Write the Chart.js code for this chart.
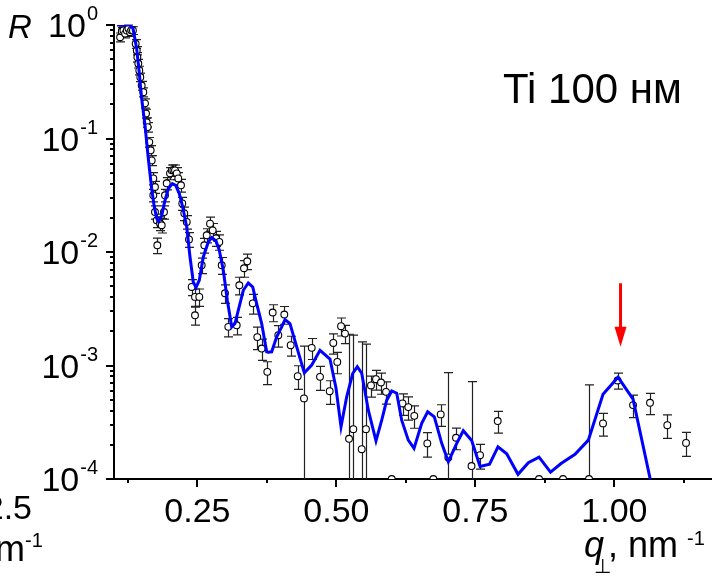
<!DOCTYPE html>
<html>
<head>
<meta charset="utf-8">
<script src="https://cdn.jsdelivr.net/npm/chart.js@4.4.1/dist/chart.umd.min.js"></script>
<style>
html,body{margin:0;padding:0;background:#fff;}
#wrap{position:relative;width:712px;height:577px;}
</style>
</head>
<body>
<div id="wrap"><canvas id="c"></canvas></div>
<script>
// ---- experimental reflectivity points: q (nm^-1), R, sigma(R) ----
const qObs = [0.111,0.114,0.117,0.120,0.123,0.126,0.129,0.131,0.134,0.139,
  0.141,0.142,0.1437,0.1455,0.1473,0.1498,0.1527,0.1558,0.1576,0.1588,
  0.1606,0.1635,0.166,0.1678,0.1707,0.1737,0.1707,0.1737,0.1768,0.1827,
  0.1858,0.1779,0.1899,0.1917,0.1948,0.2007,0.2038,0.2067,0.2097,0.2128,
  0.2156,0.2205,0.2228,0.2264,0.2308,0.2349,0.2397,0.2457,0.2534,0.2457,
  0.2577,0.2624,0.2667,0.2727,0.2775,0.2835,0.2894,0.2937,0.2996,0.3056,
  0.3207,0.3254,0.3338,0.3397,0.3495,0.3577,0.3656,0.3757,0.3854,0.3955,
  0.4063,0.4178,0.4304,0.4417,0.4556,0.4705,0.4879,0.4944,0.5016,0.5083,
  0.5155,0.5227,0.5304,0.5455,0.5532,0.5622,0.5712,0.5802,0.5892,0.5995,
  0.6189,0.6293,0.6401,0.6635,0.6743,0.6876,0.7013,0.7151,0.743,0.7583,
  0.7901,0.8644,0.9076,0.9543,0.9795,1.0056,1.0335,1.064,1.0951,1.1288];
const rObs = [0.78,0.88,0.895,0.84,0.895,0.93,0.864,0.90,0.895,0.683,
  0.596,0.52,0.458,0.398,0.347,0.293,0.256,0.204,0.166,0.139,
  0.126,0.093,0.0786,0.0641,0.0445,0.0374,0.0316,0.0225,0.019,0.0179,
  0.0172,0.01146,0.0225,0.0316,0.0403,0.0493,0.0524,0.0524,0.0524,0.0493,
  0.0445,0.0387,0.0268,0.0219,0.0184,0.0129,0.00492,0.00402,0.00402,0.00277,
  0.00764,0.01146,0.01403,0.01778,0.01552,0.01321,0.01226,0.00764,0.00433,0.00219,
  0.00226,0.00509,0.00719,0.00828,0.00353,0.00178,0.00141,0.000879,0.00293,0.00185,
  0.00281,0.00151,0.000805,0.000513,0.00143,0.000794,0.000594,0.00158,0.001076,0.00222,
  0.00191,0.000226,0.000275,0.000183,0.000275,0.000667,0.000757,0.000708,0.000586,0.0001,
  0.000463,0.00043,0.00036,0.000206,0.0001,0.000371,0.000155,0.000231,0.00013,0.000162,
  0.000324,0.0001,0.0001,0.0001,0.000309,0.000738,0.000448,0.000469,0.000298,0.000208];
const sObs = [0.07,0.07,0.07,0.07,0.07,0.07,0.07,0.07,0.07,0.06,
  0.05,0.05,0.04,0.035,0.03,0.026,0.023,0.019,0.015,0.013,
  0.012,0.009,0.008,0.0065,0.0055,0.0045,0.004,0.003,0.0026,0.0025,
  0.0025,0.0018,0.003,0.004,0.005,0.006,0.006,0.006,0.006,0.006,
  0.0055,0.005,0.0035,0.003,0.0025,0.0019,0.0008,0.0007,0.0007,0.0005,
  0.0012,0.0017,0.002,0.0025,0.0023,0.002,0.0019,0.0013,0.0008,0.0004,
  0.0004,0.0009,0.0012,0.0013,0.0007,0.0004,0.0003,0.0002,0.0005,0.0004,
  0.0005,0.0003,0.00019,0.00097,0.0003,0.00019,0.00014,0.00032,0.00023,0.0004,
  0.00035,0.00166,0.00158,0.00143,0.00127,0.00014,0.00015,0.00015,0.00013,0,
  0.0001,0.0001,0.00008,0.00005,0,0.00008,0.00071,0.00005,0.00059,0.00004,
  0.00007,0,0,0.000575,0.00007,0.00012,0.0001,0.0001,0.00007,0.00005];

// ---- fitted curve ----
const fitQ = [0.1054,0.1288,0.1342,0.1408,0.145,0.1498,0.1558,0.1617,0.1678,0.172,
  0.1768,0.1797,0.1858,0.1917,0.1977,0.2049,0.211,0.2174,0.2236,0.2308,
  0.2367,0.2426,0.2475,0.2534,0.2606,0.2696,0.2757,0.2835,0.2894,0.2966,
  0.3038,0.3117,0.3176,0.3236,0.3326,0.3415,0.3495,0.3566,0.3656,0.3746,
  0.3774,0.3836,0.3926,0.4016,0.4076,0.4165,0.4286,0.4423,0.4556,0.4705,
  0.4885,0.4993,0.5083,0.5185,0.5293,0.5376,0.5455,0.5574,0.5712,0.5815,
  0.5905,0.5995,0.6085,0.6174,0.6293,0.6396,0.6534,0.6642,0.6761,0.6894,
  0.7013,0.7164,0.7282,0.7433,0.7583,0.7754,0.7906,0.8063,0.8266,0.8452,
  0.8644,0.8851,0.904,0.9291,0.9531,0.9795,1.0065,1.0335,1.08];
const fitR = [1.0,1.0,0.932,0.617,0.398,0.224,0.1304,0.0664,0.0361,0.0258,
  0.0197,0.0186,0.021,0.0285,0.0361,0.040,0.0387,0.0327,0.0249,0.0166,
  0.00904,0.00544,0.00486,0.00564,0.00904,0.01225,0.0134,0.0125,0.01035,0.0069,
  0.00376,0.00219,0.00234,0.00307,0.0046,0.00533,0.00492,0.00351,0.00234,0.00132,
  0.00131,0.00132,0.00179,0.00219,0.00254,0.00234,0.00146,0.000861,0.00101,0.00136,
  0.00114,0.00063,0.000289,0.00053,0.00085,0.000976,0.000855,0.000404,0.000217,0.00033,
  0.000495,0.000597,0.00057,0.00033,0.00022,0.000186,0.000309,0.000391,0.000353,0.000206,
  0.000142,0.000206,0.000266,0.000218,0.000129,0.000135,0.000192,0.000167,0.00011,0.000139,
  0.000156,0.000115,0.000137,0.000165,0.00022,0.000559,0.000788,0.000505,0.000044];

// ---- axes ----
const xMajorTicks = [0.25,0.50,0.75,1.00];
const xTickLabels = ['0.25','0.50','0.75','1.00'];
const xMinorTicks = [0.125,0.375,0.625,0.875,1.125];
const yDecades = [1,0.1,0.01,0.001,0.0001];
const yExponents = ['0','-1','-2','-3','-4'];
const xMin = 0.1, xMax = 1.1755, yMin = 1e-4, yMax = 1;

// ---- red arrow marker ----
const arrowQ = 1.011, arrowFromR = 5.3e-3, arrowToR = 1.46e-3;

const FONT = '"Liberation Sans", Arial, Helvetica, sans-serif';

function supText(ctx, base, sup, xRight, baseY, baseSize, supSize, supRaise) {
  ctx.font = supSize + 'px ' + FONT;
  const sw = ctx.measureText(sup).width;
  ctx.font = baseSize + 'px ' + FONT;
  const bw = ctx.measureText(base).width;
  ctx.textAlign = 'left';
  ctx.fillText(base, xRight - sw - bw - 1, baseY);
  ctx.font = supSize + 'px ' + FONT;
  ctx.fillText(sup, xRight - sw, baseY - supRaise);
}

const deco = {
  id: 'deco',
  beforeDatasetsDraw(chart) {
    const {ctx, chartArea: a, scales: {x, y}} = chart;
    ctx.save();
    ctx.beginPath();
    ctx.rect(a.left, a.top - 2, a.right - a.left, a.bottom - a.top + 2);
    ctx.clip();
    ctx.strokeStyle = '#222';
    ctx.lineWidth = 1.2;
    for (let i = 0; i < qObs.length; i++) {
      const s = sObs[i];
      if (!s) continue;
      const px = Math.round(x.getPixelForValue(qObs[i])) + 0.5;
      const hi = y.getPixelForValue(rObs[i] + s);
      const loVal = rObs[i] - s;
      const lo = loVal > 0 ? y.getPixelForValue(loVal) : a.bottom + 10;
      ctx.beginPath();
      ctx.moveTo(px, hi); ctx.lineTo(px, lo);
      ctx.moveTo(px - 4.5, hi); ctx.lineTo(px + 4.5, hi);
      if (loVal > 0) { ctx.moveTo(px - 4.5, lo); ctx.lineTo(px + 4.5, lo); }
      ctx.stroke();
    }
    ctx.restore();
  },
  afterDatasetsDraw(chart) {
    const {ctx, scales: {x, y}} = chart;
    // red arrow
    const ax = x.getPixelForValue(arrowQ);
    const y0 = y.getPixelForValue(arrowFromR);
    const y1 = y.getPixelForValue(arrowToR);
    ctx.save();
    ctx.fillStyle = '#ff0000';
    ctx.fillRect(ax - 1.5, y0, 3, (y1 - 19) - y0);
    ctx.beginPath();
    ctx.moveTo(ax - 6, y1 - 20);
    ctx.lineTo(ax + 6, y1 - 20);
    ctx.lineTo(ax, y1);
    ctx.closePath();
    ctx.fill();
    ctx.restore();
  },
  afterDraw(chart) {
    const {ctx, chartArea: a, scales: {x, y}} = chart;
    ctx.save();
    ctx.strokeStyle = '#000';
    ctx.fillStyle = '#000';
    ctx.lineWidth = 2;
    // x ticks
    ctx.beginPath();
    xMajorTicks.forEach(v => {
      const px = Math.round(x.getPixelForValue(v));
      ctx.moveTo(px, a.bottom); ctx.lineTo(px, a.bottom + 8);
    });
    xMinorTicks.forEach(v => {
      const px = Math.round(x.getPixelForValue(v));
      ctx.moveTo(px, a.bottom); ctx.lineTo(px, a.bottom + 4);
    });
    // y ticks
    yDecades.forEach(v => {
      const py = Math.round(y.getPixelForValue(v));
      ctx.moveTo(a.left, py); ctx.lineTo(a.left - 8, py);
    });
    for (let d = 0; d < yDecades.length - 1; d++) {
      for (let k = 2; k <= 9; k++) {
        const py = Math.round(y.getPixelForValue(yDecades[d + 1] * k));
        ctx.moveTo(a.left, py); ctx.lineTo(a.left - 4, py);
      }
    }
    ctx.stroke();

    // x tick labels
    ctx.font = '34px ' + FONT;
    ctx.textAlign = 'center';
    ctx.textBaseline = 'alphabetic';
    xMajorTicks.forEach((v, i) => {
      ctx.fillText(xTickLabels[i], x.getPixelForValue(v), a.bottom + 43);
    });
    // y tick labels 10^n
    yDecades.forEach((v, i) => {
      const py = y.getPixelForValue(v);
      supText(ctx, '10', yExponents[i], a.left - 16, py + 12, 34, 20, 17);
    });

    // axis titles
    ctx.textAlign = 'left';
    ctx.font = 'italic 33px ' + FONT;
    ctx.fillText('R', 8, 38);

    // x axis title: q⊥, nm^-1
    ctx.font = 'italic 36px ' + FONT;
    ctx.fillText('q', 584, 557);
    ctx.font = '20px ' + FONT;
    ctx.fillText('\u22A5', 594, 573);
    ctx.font = '36px ' + FONT;
    ctx.fillText(', nm', 608, 557);
    ctx.font = '20px ' + FONT;
    ctx.fillText('-1', 687, 545);

    // sample label
    ctx.font = '42px ' + FONT;
    ctx.fillText('Ti 100 \u043D\u043C', 503, 103);

    // fragments of the neighbouring panel (cropped)
    ctx.font = '34px ' + FONT;
    ctx.textAlign = 'right';
    ctx.fillText('2.5', 32, 519);
    ctx.font = '36px ' + FONT;
    ctx.fillText('nm', 25, 561);
    ctx.font = '20px ' + FONT;
    ctx.textAlign = 'left';
    ctx.fillText('-1', 25, 547);
    ctx.restore();
  }
};

new Chart(document.getElementById('c'), {
  type: 'scatter',
  data: {
    datasets: [
      {
        type: 'line',
        label: 'fit',
        data: fitQ.map((q, i) => ({x: q, y: fitR[i]})),
        borderColor: '#0000ff',
        borderWidth: 3,
        pointRadius: 0,
        tension: 0,
        fill: false,
        order: 0
      },
      {
        type: 'scatter',
        label: 'experiment',
        data: qObs.map((q, i) => ({x: q, y: rObs[i]})),
        pointRadius: 3.4,
        pointBackgroundColor: '#ffffff',
        pointBorderColor: '#000000',
        pointBorderWidth: 1.1,
        order: 1
      }
    ]
  },
  options: {
    responsive: true,
    maintainAspectRatio: false,
    animation: false,
    devicePixelRatio: 1,
    layout: {autoPadding: false, padding: {left: 114, right: 0, top: 25, bottom: 98}},
    plugins: {legend: {display: false}, tooltip: {enabled: false}},
    scales: {
      x: {
        type: 'linear', min: xMin, max: xMax,
        grid: {display: false, drawTicks: false},
        ticks: {display: false},
        border: {display: true, color: '#000', width: 2}
      },
      y: {
        type: 'logarithmic', min: yMin, max: yMax,
        grid: {display: false, drawTicks: false},
        ticks: {display: false},
        border: {display: true, color: '#000', width: 2}
      }
    }
  },
  plugins: [deco]
});
</script>
</body>
</html>
